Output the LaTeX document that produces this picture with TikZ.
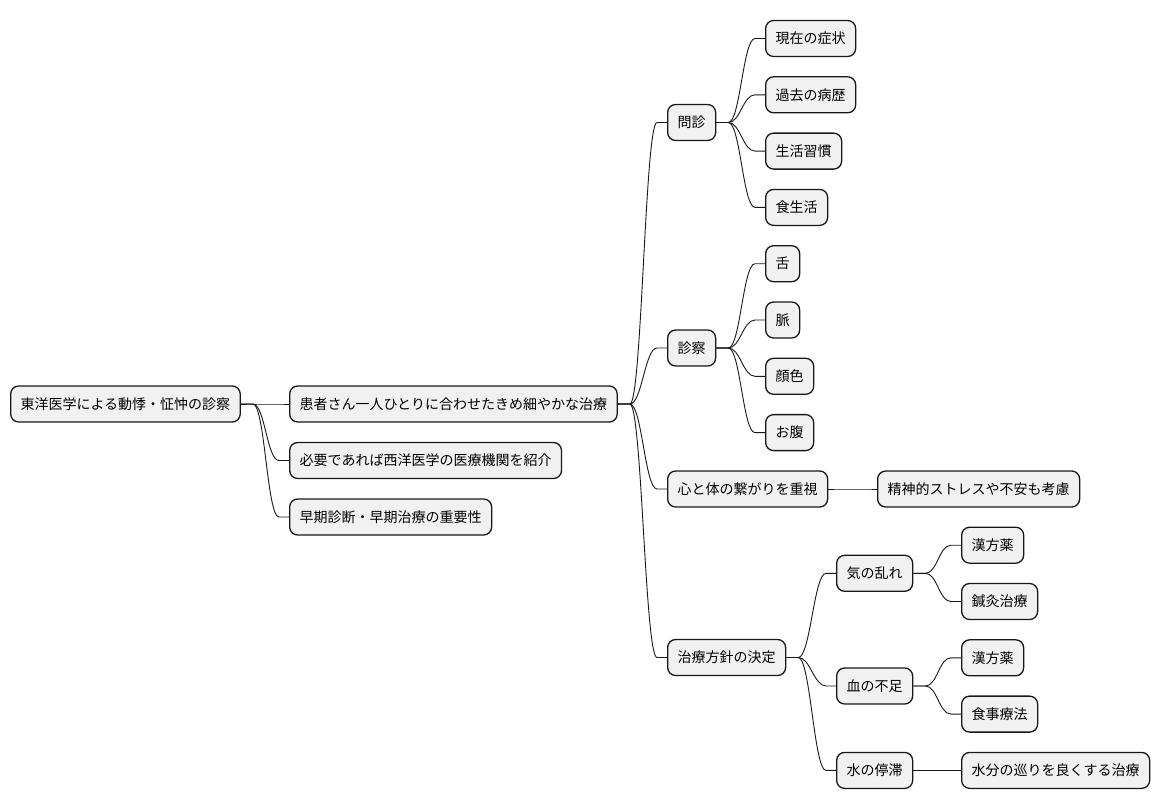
\documentclass[tikz,border=0pt]{standalone}
\usepackage{fontspec}
\setmainfont{Noto Sans CJK JP}
\usepackage{xcolor}
\usetikzlibrary{calc, positioning}
\definecolor{boxfill}{HTML}{F1F1F1}
\definecolor{boxline}{HTML}{181818}

\begin{document}
\begin{tikzpicture}[x=1pt, y=-1pt, font=\fontsize{14}{16}\selectfont]
		\tikzstyle{idea} = [draw=boxline, fill=boxfill, line width=1.3pt, rounded corners=8pt, anchor=west, minimum height=36pt, inner xsep=10pt, inner ysep=0pt]
		\tikzstyle{link} = [draw=boxline, line width=0.9pt, to path={-- ++(12,0) .. controls +(12,0) and +(-12,0) .. ($(\tikztotarget)+(-10,0)$) -- (\tikztotarget)}]
		
		\useasboundingbox (0,0) rectangle (1160,809);
		
		\node[idea]	at (10, 404)	(root)	{東洋医学による動悸・怔忡の診察};
		
		\node[idea]	at (289, 404)	(care)	{患者さん一人ひとりに合わせたきめ細やかな治療};
		\node[idea]	at (289, 460.5)	(refer)	{必要であれば西洋医学の医療機関を紹介};
		\node[idea]	at (289, 517)	(early)	{早期診断・早期治療の重要性};
		
		\node[idea]	at (667, 122.5)	(inquiry)	{問診};
		\node[idea]	at (667, 348)	(exam)	{診察};
		\node[idea]	at (667, 489)	(mind)	{心と体の繋がりを重視};
		\node[idea]	at (667, 657.5)	(plan)	{治療方針の決定};
		
		\node[idea]	at (765, 38.5)	(symptom)	{現在の症状};
		\node[idea]	at (765, 94.8)	(history)	{過去の病歴};
		\node[idea]	at (765, 151.1)	(habit)	{生活習慣};
		\node[idea]	at (765, 207.4)	(diet)	{食生活};
		\node[idea]	at (765, 263.7)	(tongue)	{舌};
		\node[idea]	at (765, 320)	(pulse)	{脈};
		\node[idea]	at (765, 376.3)	(face)	{顔色};
		\node[idea]	at (765, 432.6)	(belly)	{お腹};
		\node[idea]	at (877, 489)	(stress)	{精神的ストレスや不安も考慮};
		\node[idea]	at (836, 573.3)	(qi)	{気の乱れ};
		\node[idea]	at (836, 686)	(blood)	{血の不足};
		\node[idea]	at (836, 770.4)	(water)	{水の停滞};
		
		\node[idea]	at (961, 545.2)	(kampoA)	{漢方薬};
		\node[idea]	at (961, 601.5)	(acu)	{鍼灸治療};
		\node[idea]	at (961, 657.8)	(kampoB)	{漢方薬};
		\node[idea]	at (961, 714.1)	(food)	{食事療法};
		\node[idea]	at (961, 770.4)	(flow)	{水分の巡りを良くする治療};
		
		\draw [link] (root.east) to (care.west);
		\draw [link] (root.east) to (refer.west);
		\draw [link] (root.east) to (early.west);
		
		\draw [link] (care.east) to (inquiry.west);
		\draw [link] (care.east) to (exam.west);
		\draw [link] (care.east) to (mind.west);
		\draw [link] (care.east) to (plan.west);
		
		\draw [link] (inquiry.east) to (symptom.west);
		\draw [link] (inquiry.east) to (history.west);
		\draw [link] (inquiry.east) to (habit.west);
		\draw [link] (inquiry.east) to (diet.west);
		
		\draw [link] (exam.east) to (tongue.west);
		\draw [link] (exam.east) to (pulse.west);
		\draw [link] (exam.east) to (face.west);
		\draw [link] (exam.east) to (belly.west);
		
		\draw [link] (mind.east) to (stress.west);
		
		\draw [link] (plan.east) to (qi.west);
		\draw [link] (plan.east) to (blood.west);
		\draw [link] (plan.east) to (water.west);
		
		\draw [link] (qi.east) to (kampoA.west);
		\draw [link] (qi.east) to (acu.west);
		\draw [link] (blood.east) to (kampoB.west);
		\draw [link] (blood.east) to (food.west);
		\draw [link] (water.east) to (flow.west);
	\end{tikzpicture}
\end{document}
